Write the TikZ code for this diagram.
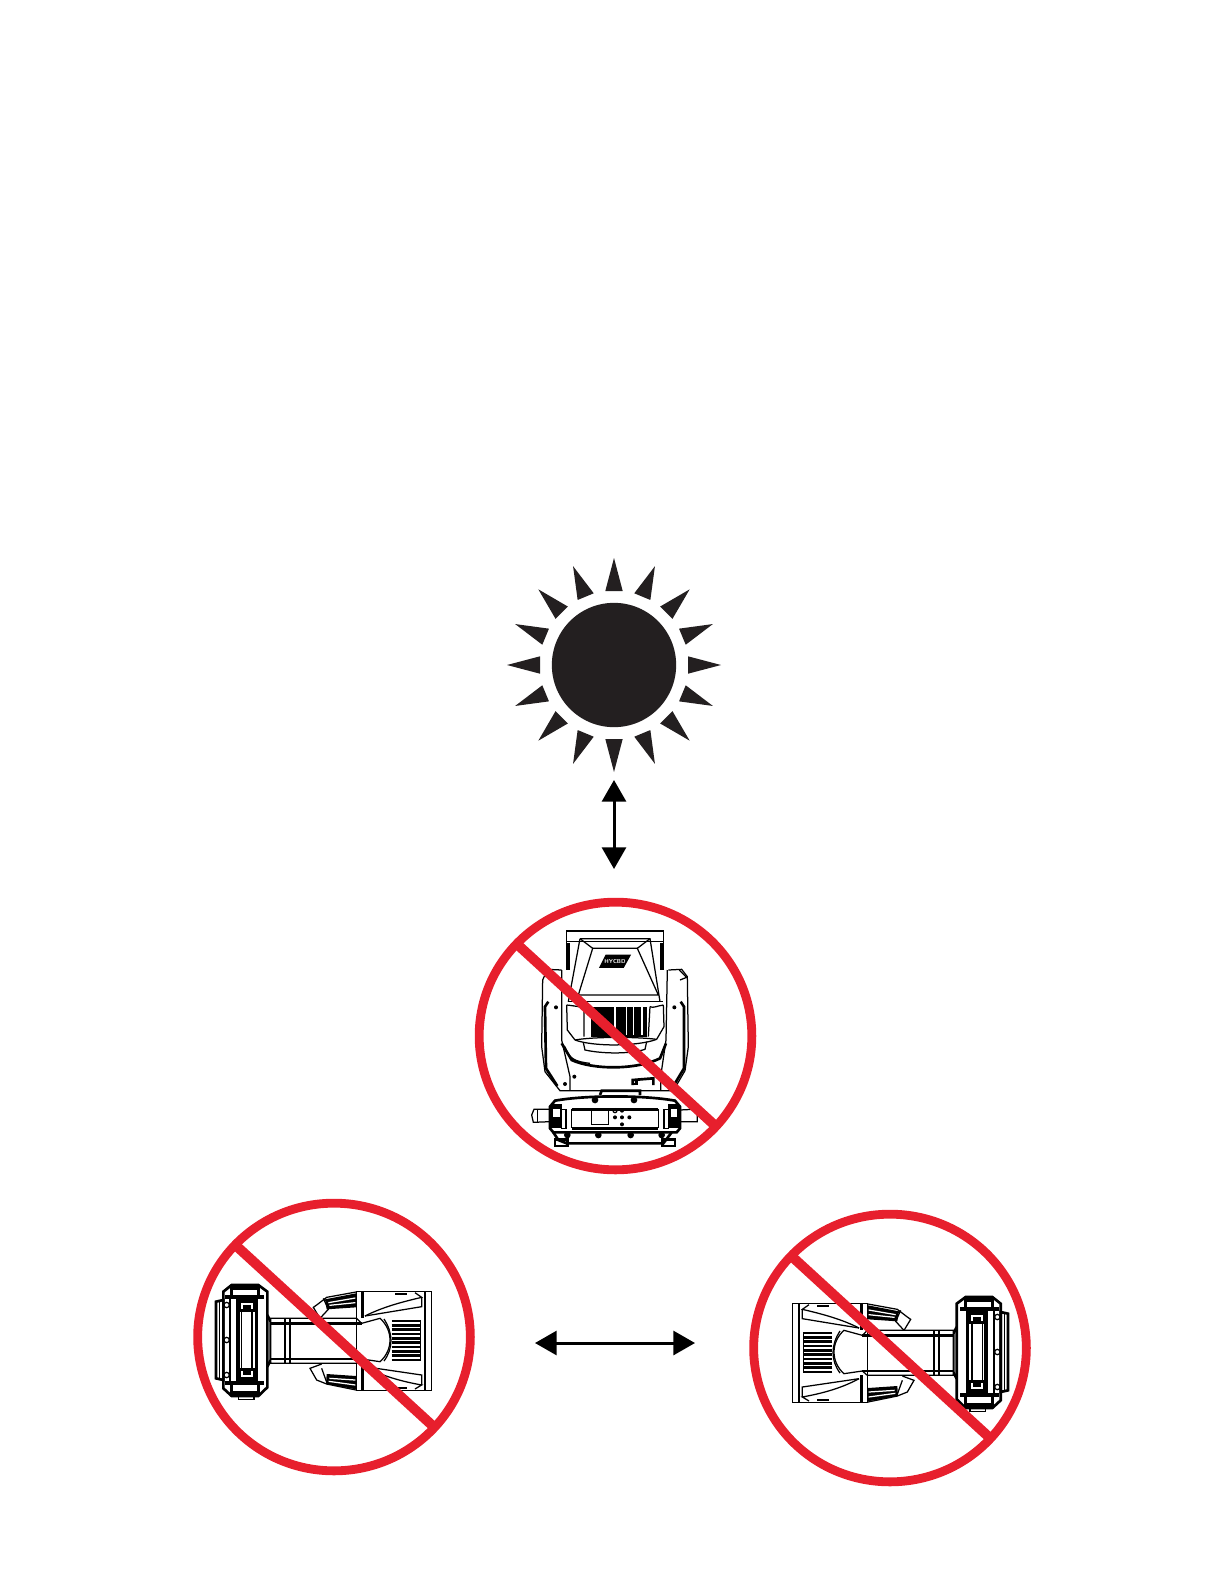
\documentclass[tikz,border=0pt]{standalone}
\usepackage{xcolor}
\definecolor{ink}{HTML}{231F20}
\definecolor{forbid}{HTML}{E71F2D}
\usetikzlibrary{arrows.meta,shapes.geometric}
\tikzset{
  every picture/.style={line width=0.75pt},
  noentry/.style={ellipse, draw=forbid, line width=5.3pt, minimum width=163.6pt, minimum height=160.6pt, inner sep=0pt, outer sep=0pt},
  slash/.style={draw=forbid, line width=6pt},
  sun/.style={circle, fill=ink, minimum size=74.6pt, inner sep=0pt},
  ray/.style={fill=ink},
  arrow/.style={{Triangle[length=13pt,width=14.4pt]}-{Triangle[length=13pt,width=14.4pt]}, draw=black, line width=1.8pt},
  zoomed/.style={x=0.2pt, y=-0.2pt},
  heavy/.style={line width=1.6pt},
  % side view of the fixture, in the units of the enlarged crop
  sidehead/.pic={
    % base
    \draw[heavy, fill=white] (155,285) -- (235,285) -- (262,305) -- (262,592) -- (235,618) -- (155,618) -- (130,595) -- (130,305) -- cycle;
    \draw[heavy] (108,335) -- (130,330) -- (130,570) -- (108,565) -- cycle;
    \draw (118,333) -- (118,567);
    \draw (175,618) -- (175,628) -- (222,628) -- (222,618);
    \fill[black] (134,316) rectangle (252,328);
    \fill[black] (134,574) rectangle (252,586);
    \fill[black] (168,325) rectangle (235,575);
    \fill[white] (180,335) rectangle (224,565);
    \draw[fill=white] (184,365) rectangle (216,535);
    \draw[heavy] (178,336) rectangle (224,362);
    \draw[heavy] (178,538) rectangle (224,564);
    \fill[black] (190,345) rectangle (212,358);
    \fill[black] (190,542) rectangle (212,556);
    \fill[black] (160,288) rectangle (235,300);
    \fill[black] (160,602) rectangle (235,614);
    \draw[heavy] (155,285) -- (155,320) (235,285) -- (235,320) (155,580) -- (155,618) (235,580) -- (235,618);
    \draw[heavy] (150,328) -- (150,574);
    \foreach \y in {345,450,555}
      \draw[fill=white] (140,\y) circle (8);
    % arm
    \draw[heavy] (262,375) -- (272,395) -- (272,510) -- (262,530);
    \draw[fill=white] (272,385) -- (530,385) -- (545,400) -- (600,385) .. controls (640,420) and (640,480) .. (600,515) -- (545,507) -- (530,520) -- (272,520) -- cycle;
    \draw[heavy] (272,400) -- (545,400) (272,507) -- (545,507);
    \draw (315,385) -- (315,520) (330,385) -- (330,520);
    \draw (612,387) .. controls (640,430) and (640,475) .. (612,513);
    % lens fins
    \draw (722,393) -- (722,510);
    \foreach \y in {393,406,...,510}
      \draw[heavy] (635,\y) -- (722,\y);
    % head
    \draw (530,305) -- (755,305) -- (755,602) -- (530,602) -- cycle;
    \draw (735,305) -- (735,602);
    \draw[heavy] (547,305) -- (547,385) (547,520) -- (547,602);
    \draw (555,378) .. controls (610,350) and (670,335) .. (725,322) -- (705,308);
    \draw (555,378) -- (725,350) -- (725,322);
    \draw (555,530) .. controls (610,560) and (670,575) .. (725,585) -- (705,597);
    \draw (555,530) -- (725,555) -- (725,585);
    \fill[black] (645,308) rectangle (680,316);
    \fill[black] (645,590) rectangle (680,598);
    % grips
    \fill[black] (435,328) -- (528,310) -- (528,352) -- (440,358) -- cycle;
    \fill[black] (440,552) -- (528,558) -- (528,598) -- (438,582) -- cycle;
    \draw[white] (445,338) -- (526,324) (448,346) -- (526,338) (448,565) -- (526,570) (446,574) -- (526,585);
    \draw (528,306) -- (440,322) -- (410,345) -- (400,352) -- (420,385);
    \draw (430,325) -- (445,358) -- (420,385);
    \draw (528,600) -- (440,582) -- (410,570) -- (390,535) -- (425,522);
    \draw (425,535) -- (442,582);
  },
  % front view of the fixture
  fronthead/.pic={
    % yoke
    \draw (305,270) -- (262,268) -- (248,300) -- (245,500) -- (255,575) -- (300,632) -- (640,632) -- (675,572) -- (685,500) -- (682,290) -- (665,268) -- (625,270);
    \draw (305,270) -- (305,480) -- (330,590) -- (330,632);
    \draw (622,270) -- (618,480) -- (602,590) -- (602,632);
    \draw[heavy] (265,365) -- (255,380) -- (258,565) -- (292,618);
    \draw[heavy] (662,365) -- (672,380) -- (672,565) -- (642,615);
    \draw (658,270) -- (680,292) -- (660,300);
    \foreach \px/\py in {288/382,643/382,343/590,315/612}
      \fill[black] (\px,\py) circle (6);
    % head
    \draw (320,153) rectangle (610,185);
    \draw (320,185) -- (320,270) (610,185) -- (610,270);
    \fill[black] (320,190) rectangle (330,270);
    \fill[black] (600,190) rectangle (610,270);
    \draw (360,176) -- (570,176) -- (600,365) (360,176) -- (325,365);
    \draw (398,205) -- (532,205) -- (595,345) -- (355,345) -- cycle;
    \draw (360,176) -- (398,205) (570,176) -- (532,205);
    \draw (325,365) -- (610,365);
    \draw[fill=black] (420,262) -- (438,226) -- (510,226) -- (490,262) -- cycle;
    \node[text=white, font=\fontsize{3.4pt}{4pt}\selectfont\sffamily\bfseries, inner sep=0pt] (logotype) at (465,244) {HYCBD};
    % lens
    \draw (320,375) -- (322,450) -- (345,480) (610,375) -- (612,440) -- (590,478);
    \draw (320,375) .. controls (350,378) and (375,385) .. (392,380) (610,375) .. controls (590,378) and (580,385) .. (570,380);
    \fill[black] (392,380) rectangle (562,470);
    \foreach \sx/\sw in {462/6,497/4,518/5,543/5}
      \fill[white] (\sx,380) rectangle ++(\sw,85);
    \draw (372,385) -- (372,470) (570,380) -- (565,470);
    \draw (345,480) .. controls (400,470) and (530,470) .. (590,478);
    \draw (345,480) .. controls (400,500) and (530,500) .. (590,478);
    \draw (370,488) -- (375,510) .. controls (430,522) and (510,522) .. (555,508) -- (560,485);
    \draw[heavy] (305,490) -- (335,540) .. controls (400,570) and (530,570) .. (600,535) -- (618,490);
    \draw (315,500) .. controls (325,535) and (345,545) .. (390,550);
    % handle
    \draw[heavy] (518,615) -- (518,600) -- (580,595) -- (580,615);
    \draw[heavy] (530,600) -- (530,612) -- (518,612);
    % base
    \draw[heavy] (420,645) -- (425,632) -- (540,632) -- (540,645);
    \draw[heavy, fill=white] (270,680) -- (285,662) .. controls (380,645) and (550,645) .. (645,662) -- (660,680) -- (660,745) -- (650,757) -- (280,757) -- (270,745) -- cycle;
    \draw[heavy] (335,688) -- (595,688) (335,745) -- (595,745);
    \draw (335,688) -- (335,745) (595,688) -- (595,745);
    \draw (394,688) rectangle (445,733);
    \draw (465,692) circle (6);
    \foreach \px/\py in {486/692,465/712,486/712,508/712,486/733}
      \fill[black] (\px,\py) circle (6);
    \fill[black] (272,672) rectangle (305,745);
    \fill[black] (625,672) rectangle (658,745);
    \fill[white] (280,688) rectangle (300,712);
    \fill[white] (632,688) rectangle (652,712);
    \draw (305,688) rectangle (318,745) (612,688) rectangle (625,745);
    \draw (270,688) -- (222,688) -- (215,705) -- (220,727) -- (270,725);
    \draw (232,688) -- (232,727);
    \draw (660,690) -- (700,688) -- (712,705) -- (712,725) -- (660,725);
    \foreach \px in {322,415,512,605}
      \draw[fill=black] (\px,765) circle (8);
    \foreach \px in {405,522}
      \draw[fill=black] (\px,660) circle (8);
    \draw[heavy] (280,757) -- (295,780) -- (320,790) -- (610,790) -- (635,757);
    \draw[heavy] (285,778) rectangle (322,798);
    \draw[heavy] (608,778) rectangle (645,798);
  },
}
\begin{document}
\begin{tikzpicture}[x=0.6pt, y=-0.6pt]
  \useasboundingbox (0,0) rectangle (1224,1584);
  \node[sun] (disc) at (614,665) {};
  \foreach \a in {0,22.5,...,337.5}
    \fill[ray, shift={(disc.center)}, rotate=\a] (74,-8.7) -- (107,0) -- (74,8.7) -- cycle;

  \coordinate (uptip) at (614,780);
  \coordinate (downtip) at (614,869);
  \draw[arrow] (uptip) -- (downtip);
  \coordinate (lefttip) at (535,1343);
  \coordinate (righttip) at (695,1343);
  \draw[arrow] (lefttip) -- (righttip);

  \begin{scope}[shift={(460,880)}, zoomed]
    \pic {fronthead};
  \end{scope}
  \begin{scope}[shift={(180,1190)}, zoomed]
    \pic {sidehead};
  \end{scope}
  \begin{scope}[shift={(1044,1202)}, xscale=-1, zoomed]
    \pic[transform shape] {sidehead};
  \end{scope}

  \node[noentry] (topring) at (615.5,1036) {};
  \node[noentry] (leftring) at (334,1337) {};
  \node[noentry] (rightring) at (890,1348) {};
  \draw[slash] (topring.137) -- (topring.-42);
  \draw[slash] (leftring.137) -- (leftring.-42);
  \draw[slash] (rightring.137) -- (rightring.-42);
\end{tikzpicture}
\end{document}
